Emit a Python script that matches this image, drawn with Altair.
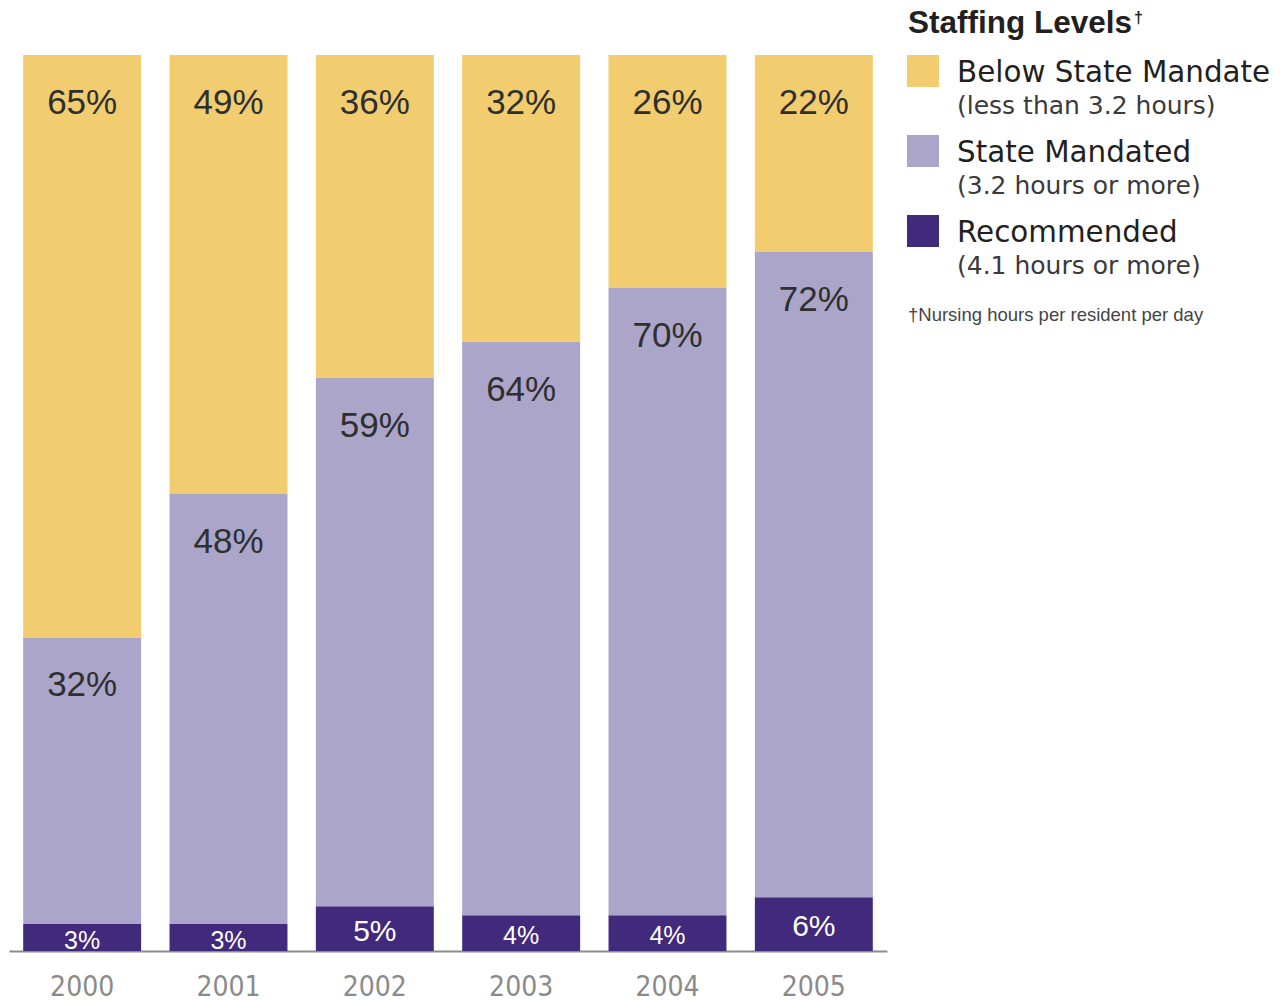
import altair as alt
import pandas as pd

years = ["2000", "2001", "2002", "2003", "2004", "2005"]
categories = ["Below State Mandate", "State Mandated", "Recommended"]
below = [65, 49, 36, 32, 26, 22]
mandated = [32, 48, 59, 64, 70, 72]
recommended = [3, 3, 5, 4, 4, 6]
sublabels = ["(less than 3.2 hours)", "(3.2 hours or more)", "(4.1 hours or more)"]
colors = ["#F1CD6F", "#AAA5C9", "#41297B"]
legend_title = "Staffing Levels"
footnote = "\u2020Nursing hours per resident per day"

rows = []
for i, yr in enumerate(years):
    base = 0
    for cat, vals in [("Recommended", recommended), ("State Mandated", mandated), ("Below State Mandate", below)]:
        v = vals[i]
        rows.append(dict(year=yr, category=cat, value=v, y0=base, y1=base + v, mid=base + v / 2))
        base += v
df = pd.DataFrame(rows)

color_scale = alt.Scale(domain=categories, range=colors)
yscale = alt.Scale(domain=[0, 100 * 943 / 896], nice=False, zero=True)

x_main = alt.X(
    "year:N", sort=years,
    scale=alt.Scale(paddingInner=0.194, paddingOuter=0.097),
    axis=alt.Axis(title=None, labelAngle=0, ticks=False, domainColor="#8c8c8c", domainWidth=2,
                  labelFont="Liberation Sans Narrow, DejaVu Sans Condensed, sans-serif",
                  labelFontSize=28, labelColor="#8a8a8a", labelPadding=22),
)
x_plain = alt.X("year:N", sort=years)

bars = alt.Chart(df).mark_bar().encode(
    x=x_main,
    y=alt.Y("y0:Q", scale=yscale, axis=None),
    y2="y1:Q",
    color=alt.Color("category:N", scale=color_scale, legend=None),
)

top_text = alt.Chart(df).transform_filter(
    alt.datum.category != "Recommended"
).transform_calculate(label="datum.value + '%'").mark_text(
    font="Liberation Sans", fontSize=35, color="#2f2f2f", baseline="middle", dy=48
).encode(x=x_plain, y=alt.Y("y1:Q", scale=yscale), text="label:N")

bottom_text = alt.Chart(df).transform_filter(
    alt.datum.category == "Recommended"
).transform_calculate(label="datum.value + '%'").mark_text(
    font="Liberation Sans", color="white", baseline="middle", dy=3
).encode(
    x=x_plain, y=alt.Y("mid:Q", scale=yscale), text="label:N",
    size=alt.condition(alt.datum.value >= 5, alt.value(30), alt.value(25)),
)

bar_chart = alt.layer(bars, top_text, bottom_text).properties(width=878, height=943)

leg_df = pd.DataFrame({"category": categories, "sub": sublabels})
yleg = alt.Y("category:N", sort=categories,
             scale=alt.Scale(type="point", domain=categories, range=[63, 223], padding=0), axis=None)

swatch = alt.Chart(leg_df).mark_square(size=1024, opacity=1, strokeWidth=0).encode(
    x=alt.value(16), y=yleg, color=alt.Color("category:N", scale=color_scale, legend=None)
)
main_lab = alt.Chart(leg_df).mark_text(
    align="left", baseline="middle", font="DejaVu Sans", fontSize=29.4, color="#231f20", dy=2
).encode(x=alt.value(50), y=yleg, text="category:N")
sub_lab = alt.Chart(leg_df).mark_text(
    align="left", baseline="middle", font="DejaVu Sans", fontSize=25, color="#3a3a3a", dy=35
).encode(x=alt.value(50), y=yleg, text="sub:N")

title = alt.Chart(pd.DataFrame({"t": [legend_title]})).mark_text(
    align="left", baseline="middle", font="Liberation Sans", fontWeight="bold", fontSize=31.5, color="#231f20"
).encode(x=alt.value(1), y=alt.value(16), text="t:N")
dagger = alt.Chart(pd.DataFrame({"t": ["\u2020"]})).mark_text(
    align="left", baseline="middle", font="Liberation Sans", fontWeight="bold", fontSize=16, color="#231f20"
).encode(x=alt.value(227), y=alt.value(10), text="t:N")
foot = alt.Chart(pd.DataFrame({"t": [footnote]})).mark_text(
    align="left", baseline="middle", font="Liberation Sans", fontSize=18.5, color="#444444"
).encode(x=alt.value(1), y=alt.value(307), text="t:N")

legend_chart = alt.layer(swatch, main_lab, sub_lab, title, dagger, foot).properties(width=330, height=320)

chart = alt.hconcat(bar_chart, legend_chart, spacing=20).properties(
    padding={"left": 1, "top": 0, "right": 0, "bottom": 0}
).configure_view(stroke=None)

chart.save("out.html", embed_options={"renderer": "svg", "actions": False})
